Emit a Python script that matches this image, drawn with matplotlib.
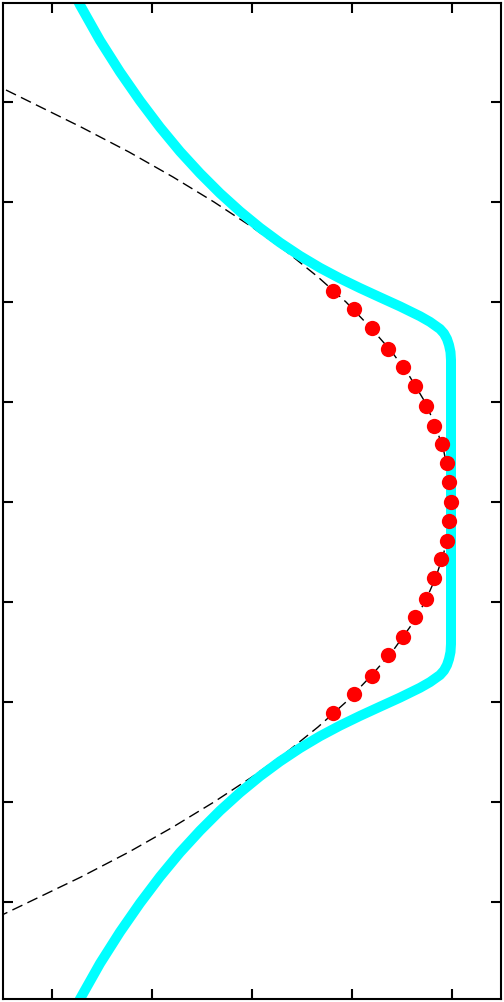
import matplotlib
matplotlib.use("Agg")
import matplotlib.pyplot as plt

# Measured data points (red dots)
dot_y = [2.11, 1.93, 1.74, 1.53, 1.35, 1.16, 0.96, 0.76, 0.58, 0.39, 0.20, 0.00,
         -0.19, -0.39, -0.57, -0.76, -0.97, -1.15, -1.35, -1.53, -1.74, -1.92, -2.11]
dot_x = [2.81, 3.02, 3.20, 3.36, 3.51, 3.63, 3.74, 3.82, 3.90, 3.95, 3.97, 3.99,
         3.97, 3.95, 3.89, 3.82, 3.74, 3.63, 3.51, 3.36, 3.20, 3.02, 2.81]

# Dashed fit curve
fit_y = [4.12, 3.75, 3.50, 3.25, 3.00, 2.75, 2.50, 2.25, 2.00, 1.75, 1.50, 1.25,
         1.00, 0.75, 0.50, 0.25, 0.00, -0.25, -0.50, -0.75, -1.00, -1.25, -1.50,
         -1.75, -2.00, -2.25, -2.50, -2.75, -3.00, -3.25, -3.50, -3.75, -4.13]
fit_x = [-0.46, 0.29, 0.77, 1.21, 1.62, 2.00, 2.35, 2.66, 2.94, 3.18, 3.40, 3.58,
         3.73, 3.84, 3.92, 3.97, 3.99, 3.97, 3.92, 3.84, 3.73, 3.58, 3.40,
         3.18, 2.94, 2.66, 2.35, 2.00, 1.62, 1.21, 0.77, 0.29, -0.50]

# Cyan model curve
model_y = [5.07, 4.97, 4.615, 4.30, 4.012, 3.747, 3.505, 3.287, 3.087, 2.906,
           2.742, 2.594, 2.461, 2.342, 2.236, 2.139, 2.047, 1.956, 1.858, 1.801,
           1.73, 1.685, 1.63, 1.57, 1.50, 1.42, 0.00,
           -1.42, -1.50, -1.57, -1.63, -1.685, -1.73, -1.801, -1.858, -1.956,
           -2.047, -2.139, -2.236, -2.342, -2.461, -2.594, -2.742, -2.906,
           -3.087, -3.287, -3.505, -3.747, -4.012, -4.30, -4.615, -4.97, -5.07]
model_x = [0.23, 0.28, 0.48, 0.68, 0.88, 1.08, 1.28, 1.48, 1.68, 1.88,
           2.08, 2.28, 2.48, 2.68, 2.88, 3.08, 3.28, 3.48, 3.68, 3.78,
           3.88, 3.92, 3.95, 3.97, 3.985, 3.99, 3.99,
           3.99, 3.985, 3.97, 3.95, 3.92, 3.88, 3.78, 3.68, 3.48,
           3.28, 3.08, 2.88, 2.68, 2.48, 2.28, 2.08, 1.88,
           1.68, 1.48, 1.28, 1.08, 0.88, 0.68, 0.48, 0.28, 0.23]

x_ticks = [0, 1, 2, 3, 4]
y_ticks = [-4, -3, -2, -1, 0, 1, 2, 3, 4]

fig = plt.figure(figsize=(5.04, 10.02), dpi=100)
ax = fig.add_axes([2.5 / 504, 3 / 1002, 498.5 / 504, 996 / 1002])

ax.plot(fit_x, fit_y, color="black", lw=1.0, dashes=(8, 4), zorder=1)
ax.plot(model_x, model_y, color="#00FFFF", lw=7.2, solid_joinstyle="round",
        solid_capstyle="butt", zorder=2)
ax.plot(dot_x, dot_y, "o", color="#FF0000", markersize=11, markeredgewidth=0,
        zorder=3)

ax.set_xlim(-0.495, 4.49)
ax.set_ylim(-4.97, 4.99)
ax.set_xticks(x_ticks)
ax.set_yticks(y_ticks)
ax.set_xticklabels([])
ax.set_yticklabels([])
ax.tick_params(direction="in", length=7.2, width=1.5, top=True, right=True,
               color="black")
for s in ax.spines.values():
    s.set_linewidth(1.5)
    s.set_color("black")

fig.savefig("out.png", dpi=100)
